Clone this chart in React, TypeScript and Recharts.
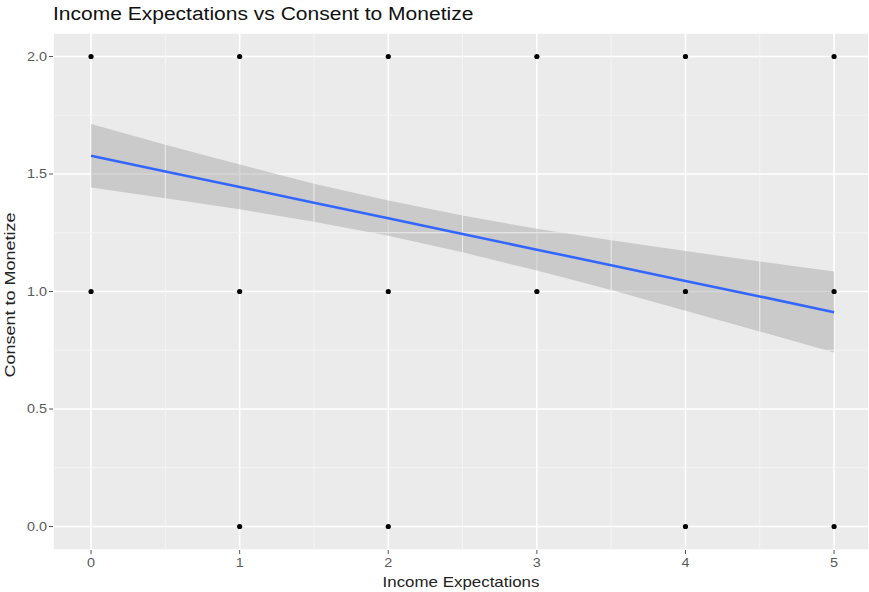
import React from 'react';
import {
  ComposedChart,
  Area,
  Line,
  Scatter,
  XAxis,
  YAxis,
  CartesianGrid,
  ReferenceLine,
} from 'recharts';

// observed responses (income expectation, consent)
const pointX = [0, 1, 2, 3, 4, 5, 0, 1, 2, 3, 4, 5, 1, 2, 4, 5];
const pointY = [2, 2, 2, 2, 2, 2, 1, 1, 1, 1, 1, 1, 0, 0, 0, 0];

// fitted lm line and its 95% band
const fitX = [0, 0.5, 1, 1.5, 2, 2.5, 3, 3.5, 4, 4.5, 5];
const fitY = [1.578, 1.511, 1.445, 1.378, 1.312, 1.245, 1.178, 1.112, 1.045, 0.979, 0.912];
const bandLow = [1.443, 1.397, 1.35, 1.297, 1.237, 1.167, 1.089, 1.006, 0.918, 0.83, 0.74];
const bandHigh = [1.713, 1.625, 1.54, 1.459, 1.387, 1.323, 1.267, 1.218, 1.172, 1.128, 1.085];

const xTicks = [0, 1, 2, 3, 4, 5];
const yTicks = [0, 0.5, 1, 1.5, 2];
const xMinor = [0.5, 1.5, 2.5, 3.5, 4.5];
const yMinor = [0.25, 0.75, 1.25, 1.75];

const FONT = '"Liberation Sans", Arial, sans-serif';
const TICK_COLOR = '#5A5A5A';

const points = pointX.map((x, i) => ({ x, y: pointY[i] }));
const fit = fitX.map((x, i) => ({ x, fit: fitY[i], band: [bandLow[i], bandHigh[i]] }));

// the original text renders a bit wider than Arial, so stretch it
const XTick = (p: any) => (
  <g transform={`translate(${p.x},${p.y})`}>
    <text transform="scale(1.2,1)" textAnchor="middle" dy={11} fontSize={12} fill={TICK_COLOR} fontFamily={FONT}>
      {p.payload.value}
    </text>
  </g>
);

const YTick = (p: any) => (
  <g transform={`translate(${p.x},${p.y})`}>
    <text transform="scale(1.2,1)" textAnchor="end" dy={4} fontSize={12} fill={TICK_COLOR} fontFamily={FONT}>
      {Number(p.payload.value).toFixed(1)}
    </text>
  </g>
);

export default function App() {
  return (
    <div style={{ position: 'absolute', left: 0, top: 0, width: 869, height: 592, background: '#fff', fontFamily: FONT, overflow: 'hidden' }}>
      <div style={{ position: 'absolute', left: 53, top: 4, fontSize: 18, color: '#111', whiteSpace: 'nowrap', transform: 'scaleX(1.167)', transformOrigin: 'left center' }}>
        Income Expectations vs Consent to Monetize
      </div>
      <div
        style={{
          position: 'absolute', left: 461, top: 582, fontSize: 14.5, color: '#222', whiteSpace: 'nowrap',
          transform: 'translate(-50%, -50%) scaleX(1.165)',
        }}
      >
        Income Expectations
      </div>
      <div
        style={{
          position: 'absolute', left: 9, top: 295, fontSize: 15, color: '#222', whiteSpace: 'nowrap',
          transform: 'translate(-50%, -50%) rotate(-90deg) scaleX(1.2)',
        }}
      >
        Consent to Monetize
      </div>
      <ComposedChart width={869} height={592} data={fit} margin={{ top: 33, right: 0, bottom: 0, left: 0 }}>
        <CartesianGrid fill="#EBEBEB" stroke="#FFFFFF" strokeWidth={1.6} />
        {xMinor.map((v) => (
          <ReferenceLine key={'xm' + v} x={v} stroke="#F6F6F6" strokeWidth={0.8} />
        ))}
        {yMinor.map((v) => (
          <ReferenceLine key={'ym' + v} y={v} stroke="#F6F6F6" strokeWidth={0.8} />
        ))}
        <XAxis
          type="number"
          dataKey="x"
          domain={[-0.256, 5.235]}
          ticks={xTicks}
          allowDataOverflow
          height={42}
          axisLine={false}
          tickLine={{ stroke: '#555' }}
          tickSize={4}
          tick={<XTick />}
        />
        <YAxis
          type="number"
          domain={[-0.1, 2.1]}
          ticks={yTicks}
          allowDataOverflow
          width={53}
          axisLine={false}
          tickLine={{ stroke: '#555' }}
          tickSize={4}
          tick={<YTick />}
        />
        <Scatter data={points} dataKey="y" fill="#000" shape={(p: any) => <circle cx={p.cx} cy={p.cy} r={2.6} fill="#000" />} isAnimationActive={false} />
        <Area dataKey="band" type="linear" stroke="none" fill="#999999" fillOpacity={0.4} isAnimationActive={false} activeDot={false} />
        <Line dataKey="fit" type="linear" stroke="#3366FF" strokeWidth={2.6} dot={false} activeDot={false} isAnimationActive={false} />
      </ComposedChart>
    </div>
  );
}
